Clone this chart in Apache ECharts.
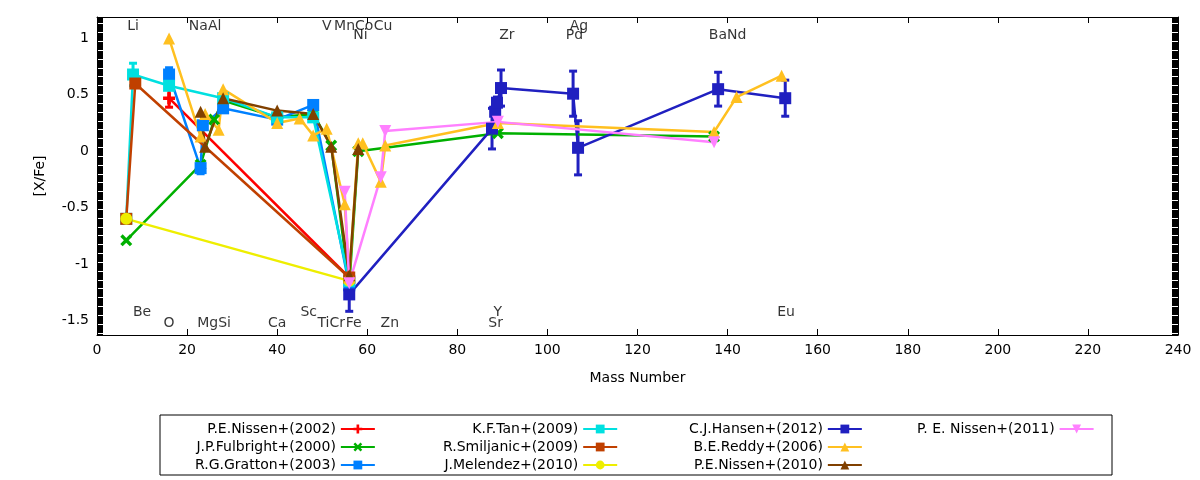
<!DOCTYPE html>
<html>
<head>
<meta charset="utf-8">
<script src="https://cdn.jsdelivr.net/npm/echarts@6/dist/echarts.min.js"></script>
<style>body{margin:0;background:#fff}#main{width:1200px;height:480px}</style>
</head>
<body>
<div id="main"></div>
<script>
// [mass, [X/Fe], error]
var nissen2002 = [[16, 0.47, 0.08], [56, -1.12, 0]];
var fulbright = [[6.5, -0.79], [23, -0.12], [26, 0.28], [28, 0.45], [40, 0.3], [48, 0.33], [52, 0.05], [56, -1.2], [58, 0.0], [89, 0.16], [137, 0.13]];
var gratton = [[16, 0.68, 0.06], [23, -0.15, 0.05], [23.5, 0.23, 0], [28, 0.38, 0], [40, 0.28, 0], [48, 0.41, 0], [56, -1.19, 0]];
var tan = [[6.5, -0.6, 0], [8, 0.68, 0.1], [16, 0.58, 0], [28, 0.47, 0], [40, 0.3, 0], [48, 0.3, 0], [56, -1.15, 0]];
var smiljanic = [[6.5, -0.6], [8.5, 0.6], [56, -1.12]];
var melendez = [[6.5, -0.6], [56, -1.15]];
var reddy = [[16, 1.0], [23, 0.13], [24, 0.33], [27, 0.19], [28, 0.55], [40, 0.25], [45, 0.29], [48, 0.14], [51, 0.2], [55, -0.47], [56, -1.12], [58, 0.07], [59, 0.07], [63, -0.27], [64, 0.05], [89, 0.25], [137, 0.17], [142, 0.48], [152, 0.67]];
var nissen2010 = [[23, 0.35], [24, 0.04], [28, 0.47], [40, 0.36], [48, 0.33], [52, 0.04], [56, -1.1], [58, 0.02]];
var hansen = [[56, -1.27, 0.15], [87.7, 0.2, 0.18], [88.4, 0.35, 0.05], [88.8, 0.43, 0.05], [89.7, 0.56, 0.16], [105.7, 0.51, 0.2], [106.8, 0.03, 0.24], [137.9, 0.55, 0.15], [152.8, 0.47, 0.16]];
var nissen2011 = [[55, -0.36], [56, -1.17], [63, -0.23], [64, 0.18], [89, 0.26], [137, 0.08]];

var topLabels = [[8, 1.11, 'Li'], [24, 1.11, 'NaAl'], [51, 1.11, 'V'], [57, 1.11, 'MnCo'], [63.5, 1.11, 'Cu'], [58.5, 1.03, 'Ni'], [91, 1.03, 'Zr'], [107, 1.11, 'Ag'], [106, 1.03, 'Pd'], [140, 1.03, 'BaNd']];
var bottomLabels = [[10, -1.43, 'Be'], [47, -1.43, 'Sc'], [89, -1.43, 'Y'], [153, -1.43, 'Eu'], [16, -1.53, 'O'], [26, -1.53, 'MgSi'], [40, -1.53, 'Ca'], [52, -1.53, 'TiCr'], [57, -1.53, 'Fe'], [65, -1.53, 'Zn'], [88.5, -1.53, 'Sr']];

var defs = [
  ['P.E.Nissen+(2002)', nissen2002, '#ff0000', 'path://M-1,-0.3L-0.3,-0.3L-0.3,-1L0.3,-1L0.3,-0.3L1,-0.3L1,0.3L0.3,0.3L0.3,1L-0.3,1L-0.3,0.3L-1,0.3Z'],
  ['J.P.Fulbright+(2000)', fulbright, '#00b000', 'path://M-1,-0.6L-0.6,-1L0,-0.4L0.6,-1L1,-0.6L0.4,0L1,0.6L0.6,1L0,0.4L-0.6,1L-1,0.6L-0.4,0Z'],
  ['R.G.Gratton+(2003)', gratton, '#0080ff', 'rect'],
  ['K.F.Tan+(2009)', tan, '#00e0e0', 'rect'],
  ['R.Smiljanic+(2009)', smiljanic, '#c04000', 'rect'],
  ['J.Melendez+(2010)', melendez, '#eeee00', 'circle'],
  ['C.J.Hansen+(2012)', hansen, '#2020c0', 'rect'],
  ['B.E.Reddy+(2006)', reddy, '#ffc020', 'triangle'],
  ['P.E.Nissen+(2010)', nissen2010, '#804000', 'triangle'],
  ['P. E. Nissen+(2011)', nissen2011, '#ff80ff', 'path://M-1,-1L1,-1L0,1Z']
];

var series = [];
defs.forEach(function (d) {
  series.push({
    name: d[0], type: 'line', data: d[1].map(function (p) { return [p[0], p[1]]; }),
    itemStyle: { color: d[2] }, lineStyle: { color: d[2], width: 2.5 },
    symbol: d[3], symbolSize: 12, showAllSymbol: true, animation: false, z: 3
  });
  var errs = d[1].filter(function (p) { return p[2]; });
  if (errs.length) {
    series.push({
      type: 'custom', data: errs, z: 2, animation: false, silent: true,
      renderItem: function (params, api) {
        var x = api.value(0), y = api.value(1), e = api.value(2);
        var lo = api.coord([x, y - e]), hi = api.coord([x, y + e]);
        var st = { stroke: d[2], lineWidth: 3 };
        return { type: 'group', children: [
          { type: 'line', shape: { x1: lo[0], y1: lo[1], x2: hi[0], y2: hi[1] }, style: st },
          { type: 'line', shape: { x1: lo[0] - 4, y1: lo[1], x2: lo[0] + 4, y2: lo[1] }, style: st },
          { type: 'line', shape: { x1: hi[0] - 4, y1: hi[1], x2: hi[0] + 4, y2: hi[1] }, style: st }
        ] };
      }
    });
  }
});
series.push({
  type: 'scatter', symbolSize: 0, silent: true, animation: false,
  data: topLabels.concat(bottomLabels).map(function (l) { return { value: [l[0], l[1]], name: l[2] }; }),
  label: { show: true, position: 'inside', formatter: '{b}', color: '#000', fontSize: 14, fontFamily: 'DejaVu Sans' }
});

var cols = [[0, 1, 2], [3, 4, 5], [6, 7, 8], [9]];
var colLeft = [190, 438, 684, 912];
var legends = cols.map(function (c, i) {
  return {
    orient: 'vertical', left: colLeft[i], top: 417, align: 'right', itemGap: 4,
    itemWidth: 34, itemHeight: 11,
    data: c.map(function (k) { return defs[k][0]; }),
    textStyle: { fontSize: 14, fontFamily: 'DejaVu Sans', color: '#000' }
  };
});

function isHalf(v) { return Math.abs(v * 2 - Math.round(v * 2)) < 1e-6; }
var tickFn = function (i, v) { return isHalf(v); };

var chart = echarts.init(document.getElementById('main'));
chart.setOption({
  backgroundColor: '#fff',
  textStyle: { fontFamily: 'DejaVu Sans', color: '#000' },
  grid: { left: 97, right: 22, top: 17, bottom: 145 },
  legend: legends,
  graphic: [{ type: 'rect', shape: { x: 160, y: 415, width: 952, height: 60 }, style: { fill: 'none', stroke: '#000', lineWidth: 1 } }],
  xAxis: [{
    type: 'value', min: 0, max: 240, interval: 20, name: 'Mass Number', nameLocation: 'middle', nameGap: 36,
    nameTextStyle: { fontSize: 14, color: '#000' },
    axisLine: { onZero: false, lineStyle: { color: '#000' } }, axisTick: { inside: true, length: 6 },
    axisLabel: { color: '#000', fontSize: 14 }, splitLine: { show: false }
  }, {
    type: 'value', position: 'top', min: 0, max: 240, interval: 20,
    axisLine: { onZero: false, lineStyle: { color: '#000' } }, axisTick: { inside: true, length: 6 },
    axisLabel: { show: false }, splitLine: { show: false }
  }],
  yAxis: [{
    type: 'value', min: -1.63, max: 1.19, interval: 0.01, name: '[X/Fe]', nameLocation: 'middle', nameGap: 50,
    nameTextStyle: { fontSize: 14, color: '#000' },
    axisLine: { show: true, onZero: false, lineStyle: { color: '#000' } },
    axisTick: { inside: true, length: 6, interval: tickFn },
    axisLabel: { color: '#000', fontSize: 14, interval: tickFn,
      formatter: function (v) { return isHalf(v) ? String(Math.round(v * 10) / 10) : ''; } },
    splitLine: { show: false }
  }, {
    type: 'value', position: 'right', min: -1.63, max: 1.19, interval: 0.01,
    axisLine: { show: true, onZero: false, lineStyle: { color: '#000' } },
    axisTick: { inside: true, length: 6, interval: tickFn },
    axisLabel: { show: false }, splitLine: { show: false }
  }],
  series: series
});
</script>
</body>
</html>
